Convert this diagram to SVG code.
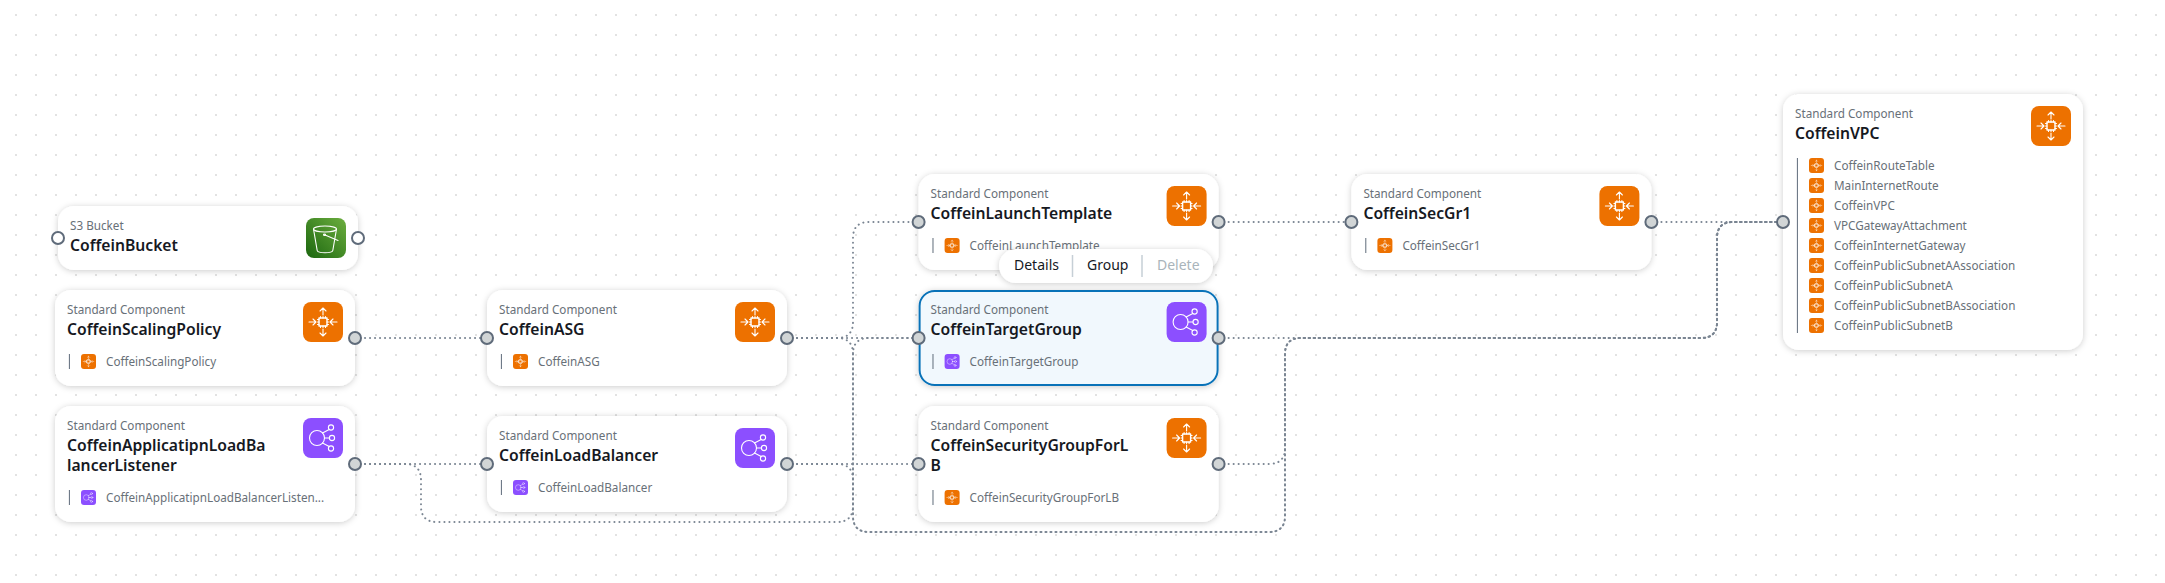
<svg xmlns="http://www.w3.org/2000/svg" width="2165" height="583" viewBox="0 0 2165 583">
<style>
text{font-family:"Noto Sans","Open Sans","Liberation Sans",sans-serif}
.card{fill:#fff;filter:url(#sh)}
.sel{fill:#f1f8fd;stroke:#0972b8;stroke-width:2}
.st{font-size:11.7px;fill:#687078}
.tt{font-size:15.7px;font-weight:600;fill:#16191f}
.it{font-size:11.7px;fill:#687078}
.bar{stroke:#5f6b7a;stroke-width:1;fill:none}
.port{fill:#d1d5d6;stroke:#5f6b7a;stroke-width:2}
.free{fill:#fff;stroke:#5f6b7a;stroke-width:2}
.c{fill:none;stroke:#7a8592;stroke-width:2;stroke-linecap:round;stroke-dasharray:0.1 4.9}
.ic{fill:none;stroke:#fff;stroke-width:1.1;stroke-linecap:round;stroke-linejoin:round}
.m{font-size:14px;fill:#16191f}
.sep{stroke:#c6cfd6;stroke-width:1.5}
</style>
<defs>
<pattern id="grid" width="20" height="20" patternUnits="userSpaceOnUse"><rect x="15" y="14" width="2" height="2" fill="#e2e2e2"/></pattern>
<filter id="sh" x="-10%" y="-25%" width="120%" height="150%"><feDropShadow dx="0" dy="1" stdDeviation="3" flood-color="#000716" flood-opacity="0.2"/></filter>
<linearGradient id="gr" x1="0" y1="1" x2="1" y2="0"><stop offset="0" stop-color="#1b660f"/><stop offset="1" stop-color="#6cae3e"/></linearGradient>
<symbol id="asg" viewBox="0 0 40 40" overflow="visible"><rect width="40" height="40" rx="8" fill="#ed7100"/>
<g class="ic"><rect x="16" y="16" width="8" height="8" stroke-width="1.4"/><path d="M17.5 14.5v1.5M20 14.5v1.5M22.5 14.5v1.5M17.5 24v1.5M20 24v1.5M22.5 24v1.5M14.5 17.5H16M14.5 20H16M14.5 22.5H16M24 17.5h1.5M24 20h1.5M24 22.5h1.5"/><path d="M20 13V6M17 9l3-3 3 3M20 27v7M17 31l3 3 3-3M6 20h7M10 17l3 3-3 3M34 20h-7M30 17l-3 3 3 3"/></g></symbol>
<symbol id="elb" viewBox="0 0 40 40" overflow="visible"><rect width="40" height="40" rx="8" fill="#8c4fff"/>
<g class="ic"><circle cx="14" cy="20" r="7.5"/><circle cx="28" cy="9.5" r="2.6"/><circle cx="29" cy="20" r="2.6"/><circle cx="28" cy="30.5" r="2.6"/><path d="M19.5 15l6.7-3.6M21.5 20h4.9M19.5 25l6.7 3.6"/></g></symbol>
<symbol id="s3" viewBox="0 0 40 40"><rect width="40" height="40" rx="8" fill="url(#gr)"/>
<g class="ic"><ellipse cx="19" cy="11" rx="11.5" ry="3"/><path d="M7.5 11l3.7 21.5c.3 1.5 3.8 2.2 7.8 2.2s7.5-.7 7.8-2.2L30.5 11"/><path d="M19 17l13 5.5"/><ellipse cx="18.5" cy="16.8" rx="1" ry=".7"/></g></symbol>
<g id="sub-asg"><line class="bar" x1="14.4" y1="64" x2="14.4" y2="79"/><use href="#asg" x="26" y="64" width="15" height="15"/></g>
<g id="sub-elb"><line class="bar" x1="14.4" y1="64" x2="14.4" y2="79"/><use href="#elb" x="26" y="64" width="15" height="15"/></g>
</defs>
<rect width="2165" height="583" fill="#fff"/>
<rect width="2165" height="583" fill="url(#grid)"/>
<g id="connectors">
<path class="c" d="M355 338H487"/>
<path class="c" d="M355 464H487"/>
<path class="c" d="M355 464H405Q421 464 421 480V506Q421 522 437 522H837Q853 522 853 506V354Q853 338 869 338H918.6"/>
<path class="c" d="M787 338H837Q853 338 853 322V238Q853 222 869 222H918.6"/>
<path class="c" d="M787 338H918.6"/>
<path class="c" d="M787 338H837Q853 338 853 354V516Q853 532 869 532H1269Q1285 532 1285 516V354Q1285 338 1301 338H1701Q1717 338 1717 322V238Q1717 222 1733 222H1783"/>
<path class="c" d="M787 464H918.6"/>
<path class="c" d="M787 464H837Q853 464 853 480V516Q853 532 869 532H1269Q1285 532 1285 516V354Q1285 338 1301 338H1701Q1717 338 1717 322V238Q1717 222 1733 222H1783"/>
<path class="c" d="M1218.6 338H1701Q1717 338 1717 322V238Q1717 222 1733 222H1783"/>
<path class="c" d="M1218.6 464H1269Q1285 464 1285 448V354Q1285 338 1301 338H1701Q1717 338 1717 322V238Q1717 222 1733 222H1783"/>
<path class="c" d="M1218.6 222H1351.4"/>
<path class="c" d="M1651.4 222H1783"/>
</g>
<g id="CoffeinBucket" transform="translate(58 206)"><rect class="card" width="300" height="64" rx="16"/><text class="st" x="12" y="24">S3 Bucket</text><text class="tt" x="12" y="45">CoffeinBucket</text><use href="#s3" x="248" y="12" width="40" height="40"/><circle class="free" cx="0" cy="32" r="6"/><circle class="free" cx="300" cy="32" r="6"/></g>
<g id="CoffeinScalingPolicy" transform="translate(55 290)"><rect class="card" width="300" height="96" rx="16"/><text class="st" x="12" y="24">Standard Component</text><text class="tt" x="12" y="45">CoffeinScalingPolicy</text><use href="#asg" x="248" y="12" width="40" height="40"/><use href="#sub-asg"/><text class="it" x="51" y="76">CoffeinScalingPolicy</text><circle class="port" cx="300" cy="48" r="6"/></g>
<g id="CoffeinApplicatipnLoadBalancerListener" transform="translate(55 406)"><rect class="card" width="300" height="116" rx="16"/><text class="st" x="12" y="24">Standard Component</text><text class="tt" x="12" y="45">CoffeinApplicatipnLoadBa</text><text class="tt" x="12" y="65">lancerListener</text><use href="#elb" x="248" y="12" width="40" height="40"/><use href="#sub-elb" y="20"/><text class="it" x="51" y="96">CoffeinApplicatipnLoadBalancerListen...</text><circle class="port" cx="300" cy="58" r="6"/></g>
<g id="CoffeinASG" transform="translate(487 290)"><rect class="card" width="300" height="96" rx="16"/><text class="st" x="12" y="24">Standard Component</text><text class="tt" x="12" y="45">CoffeinASG</text><use href="#asg" x="248" y="12" width="40" height="40"/><use href="#sub-asg"/><text class="it" x="51" y="76">CoffeinASG</text><circle class="port" cx="0" cy="48" r="6"/><circle class="port" cx="300" cy="48" r="6"/></g>
<g id="CoffeinLoadBalancer" transform="translate(487 416)"><rect class="card" width="300" height="96" rx="16"/><text class="st" x="12" y="24">Standard Component</text><text class="tt" x="12" y="45">CoffeinLoadBalancer</text><use href="#elb" x="248" y="12" width="40" height="40"/><use href="#sub-elb"/><text class="it" x="51" y="76">CoffeinLoadBalancer</text><circle class="port" cx="0" cy="48" r="6"/><circle class="port" cx="300" cy="48" r="6"/></g>
<g id="CoffeinLaunchTemplate" transform="translate(918.6 174)"><rect class="card" width="300" height="96" rx="16"/><text class="st" x="12" y="24">Standard Component</text><text class="tt" x="12" y="45">CoffeinLaunchTemplate</text><use href="#asg" x="248" y="12" width="40" height="40"/><use href="#sub-asg"/><text class="it" x="51" y="76">CoffeinLaunchTemplate</text><circle class="port" cx="0" cy="48" r="6"/><circle class="port" cx="300" cy="48" r="6"/></g>
<g id="CoffeinTargetGroup" transform="translate(918.6 290)"><rect class="card" width="300" height="96" rx="16"/><rect class="sel" x="1" y="1" width="298" height="94" rx="15"/><text class="st" x="12" y="24">Standard Component</text><text class="tt" x="12" y="45">CoffeinTargetGroup</text><use href="#elb" x="248" y="12" width="40" height="40"/><use href="#sub-elb"/><text class="it" x="51" y="76">CoffeinTargetGroup</text><circle class="port" cx="0" cy="48" r="6"/><circle class="port" cx="300" cy="48" r="6"/></g>
<g id="CoffeinSecurityGroupForLB" transform="translate(918.6 406)"><rect class="card" width="300" height="116" rx="16"/><text class="st" x="12" y="24">Standard Component</text><text class="tt" x="12" y="45">CoffeinSecurityGroupForL</text><text class="tt" x="12" y="65">B</text><use href="#asg" x="248" y="12" width="40" height="40"/><use href="#sub-asg" y="20"/><text class="it" x="51" y="96">CoffeinSecurityGroupForLB</text><circle class="port" cx="0" cy="58" r="6"/><circle class="port" cx="300" cy="58" r="6"/></g>
<g id="CoffeinSecGr1" transform="translate(1351.4 174)"><rect class="card" width="300" height="96" rx="16"/><text class="st" x="12" y="24">Standard Component</text><text class="tt" x="12" y="45">CoffeinSecGr1</text><use href="#asg" x="248" y="12" width="40" height="40"/><use href="#sub-asg"/><text class="it" x="51" y="76">CoffeinSecGr1</text><circle class="port" cx="0" cy="48" r="6"/><circle class="port" cx="300" cy="48" r="6"/></g>
<g id="CoffeinVPC" transform="translate(1783 94)"><rect class="card" width="300" height="256" rx="16"/><text class="st" x="12" y="24">Standard Component</text><text class="tt" x="12" y="45">CoffeinVPC</text><use href="#asg" x="248" y="12" width="40" height="40"/><line class="bar" x1="14.4" y1="64" x2="14.4" y2="239"/>
<use href="#asg" x="26" y="64" width="15" height="15"/><text class="it" x="51" y="76">CoffeinRouteTable</text>
<use href="#asg" x="26" y="84" width="15" height="15"/><text class="it" x="51" y="96">MainInternetRoute</text>
<use href="#asg" x="26" y="104" width="15" height="15"/><text class="it" x="51" y="116">CoffeinVPC</text>
<use href="#asg" x="26" y="124" width="15" height="15"/><text class="it" x="51" y="136">VPCGatewayAttachment</text>
<use href="#asg" x="26" y="144" width="15" height="15"/><text class="it" x="51" y="156">CoffeinInternetGateway</text>
<use href="#asg" x="26" y="164" width="15" height="15"/><text class="it" x="51" y="176">CoffeinPublicSubnetAAssociation</text>
<use href="#asg" x="26" y="184" width="15" height="15"/><text class="it" x="51" y="196">CoffeinPublicSubnetA</text>
<use href="#asg" x="26" y="204" width="15" height="15"/><text class="it" x="51" y="216">CoffeinPublicSubnetBAssociation</text>
<use href="#asg" x="26" y="224" width="15" height="15"/><text class="it" x="51" y="236">CoffeinPublicSubnetB</text>
<circle class="port" cx="0" cy="128" r="6"/></g>
<g id="node-menu"><rect class="card" x="999" y="249" width="214" height="34" rx="17"/><text class="m" x="1014" y="270">Details</text><line class="sep" x1="1072.5" y1="255" x2="1072.5" y2="277"/><text class="m" x="1087" y="270">Group</text><line class="sep" x1="1142" y1="255" x2="1142" y2="277"/><text class="m" x="1157" y="270" style="fill:#a9b4bb">Delete</text></g>
</svg>
